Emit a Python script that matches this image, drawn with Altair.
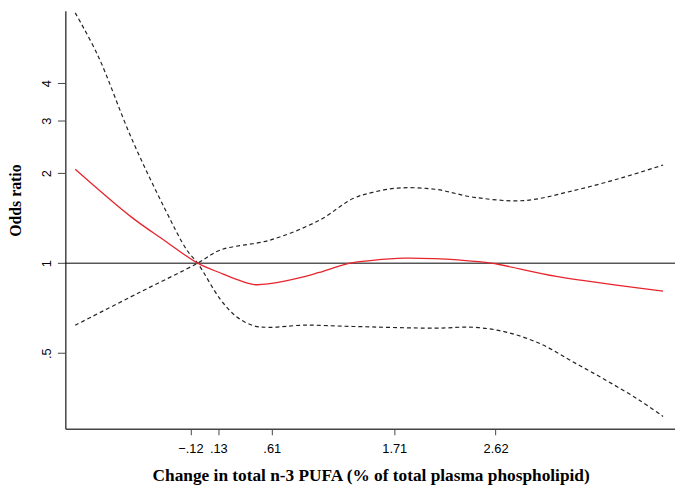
import altair as alt
import pandas as pd

# Estimated odds ratio (red solid line)
est_x = [-1.155, -0.650, -0.357, -0.055, 0.149, 0.300, 0.451, 0.593, 0.894, 1.036, 1.310, 1.515, 1.800, 2.074, 2.280, 2.580, 3.166, 4.124]
est_y = [2.062, 1.426, 1.194, 1.000, 0.927, 0.881, 0.848, 0.854, 0.899, 0.931, 1.000, 1.022, 1.039, 1.035, 1.025, 1.000, 0.903, 0.806]

# Confidence band curve rising to the right (dashed)
ci_a_x = [-1.155, -0.584, -0.055, 0.149, 0.593, 1.036, 1.338, 1.515, 1.746, 2.074, 2.429, 2.873, 3.317, 3.760, 4.124]
ci_a_y = [0.620, 0.796, 1.000, 1.107, 1.194, 1.391, 1.645, 1.725, 1.784, 1.768, 1.661, 1.620, 1.748, 1.934, 2.130]

# Confidence band curve falling to the right (dashed)
ci_b_x = [-1.155, -0.951, -0.650, -0.357, -0.153, -0.055, 0.149, 0.300, 0.451, 0.593, 0.894, 1.338, 2.074, 2.429, 2.722, 3.024, 3.317, 3.610, 3.911, 4.124]
ci_b_y = [6.880, 4.950, 2.620, 1.539, 1.107, 1.000, 0.756, 0.659, 0.617, 0.610, 0.620, 0.614, 0.606, 0.610, 0.587, 0.537, 0.467, 0.406, 0.348, 0.307]

x_ticks = [-0.12, 0.13, 0.61, 1.71, 2.62]
y_ticks = [0.5, 1, 2, 3, 4]
ref_value = [1]

x_domain = [-1.244, 4.231]
y_domain = [0.279, 6.99]

est = pd.DataFrame({"x": est_x, "y": est_y})
ci = pd.concat([
    pd.DataFrame({"x": ci_a_x, "y": ci_a_y, "s": "a"}),
    pd.DataFrame({"x": ci_b_x, "y": ci_b_y, "s": "b"}),
])
ref = pd.DataFrame({"y": ref_value})

xscale = alt.Scale(domain=x_domain, nice=False, zero=False)
yscale = alt.Scale(type="log", domain=y_domain, nice=False)

xaxis = alt.Axis(
    values=x_ticks,
    labelExpr="replace(format(datum.value, '.2f'), '0.', '.')",
    title="Change in total n-3 PUFA (% of total plasma phospholipid)",
    titleFont="Liberation Serif", titleFontSize=17.5, titleFontWeight="bold", titleColor="black",
    titleX=309, titleY=52, titleBaseline="alphabetic", titleAlign="center",
    labelFont="Liberation Sans", labelFontSize=13, labelColor="black", labelPadding=8,
    tickSize=6, tickColor="#444444", domainColor="#444444", domainWidth=1.5, grid=False,
)
yaxis = alt.Axis(
    values=y_ticks,
    labelExpr="replace(format(datum.value, '~g'), '0.', '.')",
    title="Odds ratio",
    titleFont="Liberation Serif", titleFontSize=16, titleFontWeight="bold", titleColor="black",
    titleX=-45, titleY=191.5, titleBaseline="alphabetic", titleAlign="center", titleAngle=270,
    labelFont="Liberation Sans", labelFontSize=13, labelColor="black", labelPadding=4,
    labelAngle=270, labelAlign="center", labelBaseline="bottom",
    tickSize=8, tickColor="#444444", domainColor="#444444", domainWidth=1.5, grid=False,
)

ref_line = alt.Chart(ref).mark_rule(color="black", strokeWidth=1).encode(
    y=alt.Y("y:Q", scale=yscale, axis=yaxis)
)
ci_lines = alt.Chart(ci).mark_line(color="#222222", strokeWidth=1.2, strokeDash=[4, 3], interpolate="catmull-rom").encode(
    x=alt.X("x:Q", scale=xscale, axis=xaxis),
    y=alt.Y("y:Q", scale=yscale, axis=yaxis),
    detail="s:N",
)
est_line = alt.Chart(est).mark_line(color="#e8242c", strokeWidth=1.3, interpolate="catmull-rom").encode(
    x=alt.X("x:Q", scale=xscale, axis=xaxis),
    y=alt.Y("y:Q", scale=yscale, axis=yaxis),
)

chart = alt.layer(ref_line, ci_lines, est_line).properties(
    width=617, height=423,
    background="white",
    autosize=alt.AutoSizeParams(type="none"),
    padding={"left": 58, "top": 0, "right": 0, "bottom": 57},
).configure_view(strokeWidth=0, stroke="transparent")

chart.save("out.html", embed_options={"renderer": "svg", "actions": False})
